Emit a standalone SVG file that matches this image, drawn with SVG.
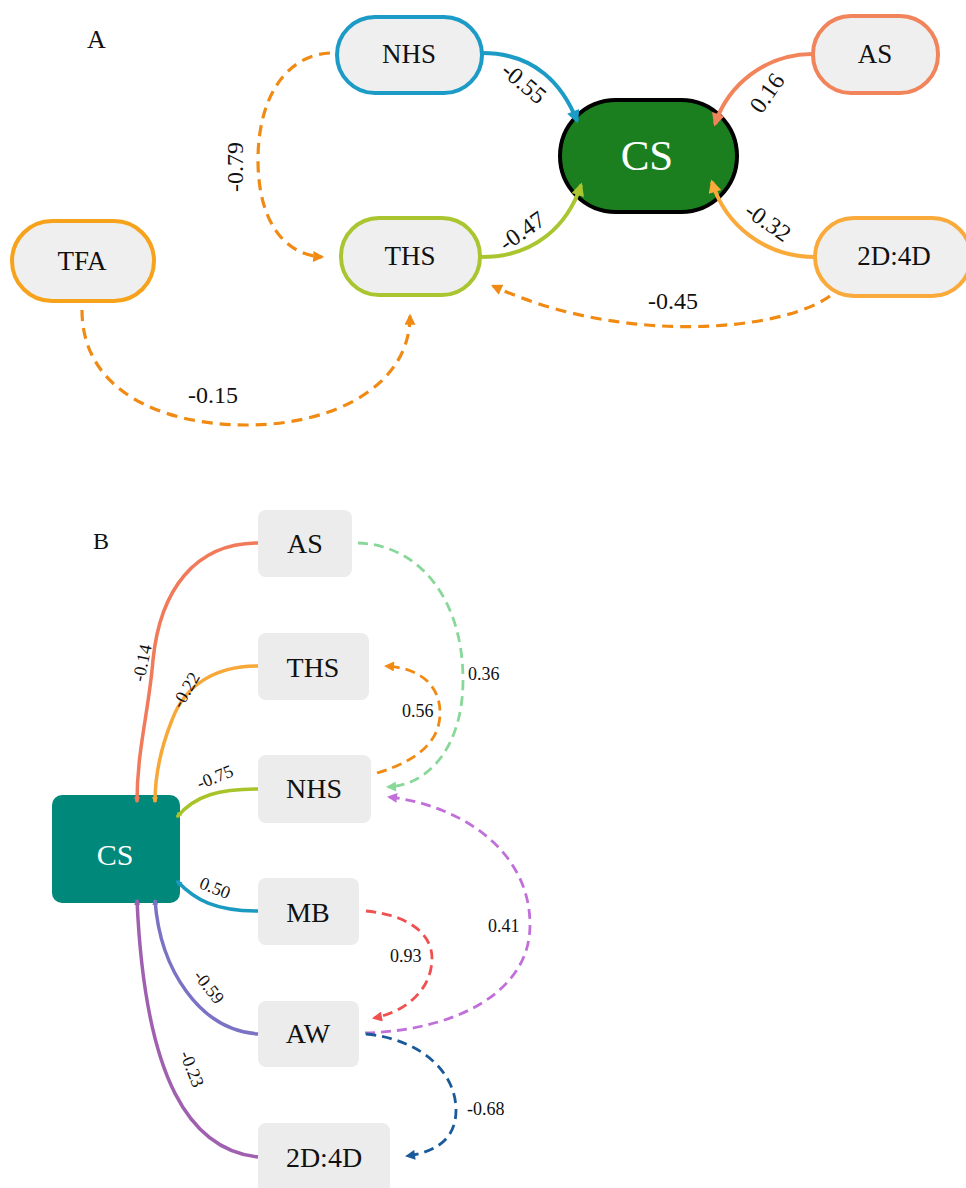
<svg xmlns="http://www.w3.org/2000/svg" width="966" height="1188" viewBox="0 0 966 1188" font-family="Liberation Serif, Times New Roman, serif">
<style>
text{font-family:"Liberation Serif","Times New Roman",serif;fill:#111;}
.pA{stroke-width:4;fill:#efefef;}
.tA{font-family:"Liberation Serif",serif;font-size:27px;text-anchor:middle;}
.lA{font-family:"Liberation Serif",serif;font-size:24px;text-anchor:middle;dominant-baseline:central;}
.tB{font-family:"Liberation Serif",serif;font-size:28px;text-anchor:middle;}
.lB{font-family:"Liberation Serif",serif;font-size:18px;}
.lBr{font-family:"Liberation Serif",serif;font-size:18px;text-anchor:middle;dominant-baseline:central;}
.bx{fill:#ececec;}
.e{fill:none;}
.sA{stroke-width:4;}
.dA{stroke-width:3.2;stroke-dasharray:11 7;}
.sB{stroke-width:3.5;}
.dB{stroke-width:2.8;stroke-dasharray:10 6;}
</style>
<defs>
<marker id="aBlue" viewBox="0 0 10 10" refX="8" refY="5" markerWidth="16" markerHeight="13" markerUnits="userSpaceOnUse" orient="auto"><path d="M0,0L10,5L0,10z" fill="#1b9bc5"/></marker>
<marker id="aCoral" viewBox="0 0 10 10" refX="8" refY="5" markerWidth="16" markerHeight="13" markerUnits="userSpaceOnUse" orient="auto"><path d="M0,0L10,5L0,10z" fill="#f2845c"/></marker>
<marker id="aGreen" viewBox="0 0 10 10" refX="8" refY="5" markerWidth="16" markerHeight="13" markerUnits="userSpaceOnUse" orient="auto"><path d="M0,0L10,5L0,10z" fill="#a9c52f"/></marker>
<marker id="aOr" viewBox="0 0 10 10" refX="8" refY="5" markerWidth="16" markerHeight="13" markerUnits="userSpaceOnUse" orient="auto"><path d="M0,0L10,5L0,10z" fill="#f9aa3a"/></marker>
<marker id="aDash" viewBox="0 0 10 10" refX="8" refY="5" markerWidth="12" markerHeight="11" markerUnits="userSpaceOnUse" orient="auto"><path d="M0,0L10,5L0,10z" fill="#f08a12"/></marker>
<marker id="bCoral" viewBox="0 0 10 10" refX="8" refY="5" markerWidth="7" markerHeight="6" markerUnits="userSpaceOnUse" orient="auto"><path d="M0,0L10,5L0,10z" fill="#f07a5a"/></marker>
<marker id="bOr" viewBox="0 0 10 10" refX="8" refY="5" markerWidth="7" markerHeight="6" markerUnits="userSpaceOnUse" orient="auto"><path d="M0,0L10,5L0,10z" fill="#f8a838"/></marker>
<marker id="bGreen" viewBox="0 0 10 10" refX="8" refY="5" markerWidth="7" markerHeight="6" markerUnits="userSpaceOnUse" orient="auto"><path d="M0,0L10,5L0,10z" fill="#a8c42a"/></marker>
<marker id="bBlue" viewBox="0 0 10 10" refX="8" refY="5" markerWidth="7" markerHeight="6" markerUnits="userSpaceOnUse" orient="auto"><path d="M0,0L10,5L0,10z" fill="#1a9ac0"/></marker>
<marker id="bViolet" viewBox="0 0 10 10" refX="8" refY="5" markerWidth="7" markerHeight="6" markerUnits="userSpaceOnUse" orient="auto"><path d="M0,0L10,5L0,10z" fill="#7a72c4"/></marker>
<marker id="bPurple" viewBox="0 0 10 10" refX="8" refY="5" markerWidth="7" markerHeight="6" markerUnits="userSpaceOnUse" orient="auto"><path d="M0,0L10,5L0,10z" fill="#a060b0"/></marker>
<marker id="dLGreen" viewBox="0 0 10 10" refX="8" refY="5" markerWidth="11" markerHeight="10" markerUnits="userSpaceOnUse" orient="auto"><path d="M0,0L10,5L0,10z" fill="#88d89a"/></marker>
<marker id="dOr" viewBox="0 0 10 10" refX="8" refY="5" markerWidth="11" markerHeight="10" markerUnits="userSpaceOnUse" orient="auto"><path d="M0,0L10,5L0,10z" fill="#f08a12"/></marker>
<marker id="dPink" viewBox="0 0 10 10" refX="8" refY="5" markerWidth="11" markerHeight="10" markerUnits="userSpaceOnUse" orient="auto"><path d="M0,0L10,5L0,10z" fill="#c070d8"/></marker>
<marker id="dRed" viewBox="0 0 10 10" refX="8" refY="5" markerWidth="11" markerHeight="10" markerUnits="userSpaceOnUse" orient="auto"><path d="M0,0L10,5L0,10z" fill="#f05050"/></marker>
<marker id="dNavy" viewBox="0 0 10 10" refX="8" refY="5" markerWidth="11" markerHeight="10" markerUnits="userSpaceOnUse" orient="auto"><path d="M0,0L10,5L0,10z" fill="#1a5a9a"/></marker>
</defs>
<rect width="966" height="1188" fill="#ffffff"/>

<text x="87" y="48" font-size="26">A</text>
<text x="93" y="549" font-size="24">B</text>

<!-- Panel A nodes -->
<g id="A-NHS"><rect class="pA" x="337" y="17" width="145" height="76" rx="38" stroke="#1b9bc5"/><text class="tA" x="409" y="63">NHS</text></g>
<g id="A-THS"><rect class="pA" x="341" y="218" width="139" height="77" rx="38" stroke="#a9c52f"/><text class="tA" x="410" y="265">THS</text></g>
<g id="A-TFA"><rect class="pA" x="12" y="221" width="142" height="80" rx="40" stroke="#f7a21b"/><text class="tA" x="82" y="270">TFA</text></g>
<g id="A-AS"><rect class="pA" x="813" y="16" width="125" height="77" rx="38" stroke="#f2845c"/><text class="tA" x="875" y="63">AS</text></g>
<g id="A-2D4D"><rect class="pA" x="815" y="218" width="156" height="78" rx="39" stroke="#f9aa3a"/><text class="tA" x="894" y="265">2D:4D</text></g>
<g id="A-CS"><rect x="560" y="100" width="177" height="112" rx="56" fill="#1b7f1f" stroke="#000" stroke-width="4"/><text x="647" y="170" font-size="43" text-anchor="middle" style="fill:#fff">CS</text></g>

<!-- Panel B nodes -->
<g id="B-AS"><rect class="bx" x="258" y="510" width="94" height="67" rx="8"/><text class="tB" x="305" y="553">AS</text></g>
<g id="B-THS"><rect class="bx" x="258" y="633" width="111" height="67" rx="8"/><text class="tB" x="313" y="677">THS</text></g>
<g id="B-NHS"><rect class="bx" x="258" y="755" width="113" height="68" rx="8"/><text class="tB" x="314" y="798">NHS</text></g>
<g id="B-MB"><rect class="bx" x="258" y="878" width="101" height="67" rx="8"/><text class="tB" x="308" y="922">MB</text></g>
<g id="B-AW"><rect class="bx" x="258" y="1001" width="101" height="66" rx="8"/><text class="tB" x="308" y="1043">AW</text></g>
<g id="B-2D4D"><rect class="bx" x="258" y="1123" width="132" height="72" rx="8"/><text class="tB" x="324" y="1167">2D:4D</text></g>
<g id="B-CS"><rect x="52" y="795" width="128" height="108" rx="10" fill="#00897a"/><text x="115" y="865" font-size="30" text-anchor="middle" style="fill:#fff">CS</text></g>

<!-- Connectors -->
<g id="connectors">
<path class="e sA" stroke="#1b9bc5" marker-end="url(#aBlue)" d="M482,53 C535,53 563,85 577,121"/>
<path class="e sA" stroke="#f2845c" marker-end="url(#aCoral)" d="M813,54 C765,54 728,85 715,124"/>
<path class="e sA" stroke="#a9c52f" marker-end="url(#aGreen)" d="M482,257 C535,257 568,225 581,185"/>
<path class="e sA" stroke="#f9aa3a" marker-end="url(#aOr)" d="M815,257 C765,257 725,225 712,182"/>
<path class="e dA" stroke="#f08a12" marker-end="url(#aDash)" d="M830,296 C780,332 620,345 493,286"/>
<path class="e dA" stroke="#f08a12" marker-end="url(#aDash)" d="M330,53 C288,55 258,95 258,160 C258,222 285,255 322,257"/>
<path class="e dA" stroke="#f08a12" marker-end="url(#aDash)" d="M82,310 C82,390 160,425 247,425 C335,425 410,385 410,316"/>

<path class="e sB" stroke="#f07a5a" marker-end="url(#bCoral)" d="M258,543 C195,543 160,590 153,660 C149,710 137,750 137,802"/>
<path class="e sB" stroke="#f8a838" marker-end="url(#bOr)" d="M258,666 C215,666 185,685 172,720 C160,750 155,775 155,802"/>
<path class="e sB" stroke="#a8c42a" marker-end="url(#bGreen)" d="M258,789 C220,789 195,795 177,817"/>
<path class="e sB" stroke="#1a9ac0" marker-end="url(#bBlue)" d="M258,911 C215,911 195,900 177,881"/>
<path class="e sB" stroke="#7a72c4" marker-end="url(#bViolet)" d="M258,1034 C200,1030 160,970 155,900"/>
<path class="e sB" stroke="#a060b0" marker-end="url(#bPurple)" d="M258,1157 C190,1150 145,1080 137,900"/>

<path class="e dB" stroke="#88d89a" marker-end="url(#dLGreen)" d="M358,543 C420,545 463,600 463,680 C463,745 430,785 388,787"/>
<path class="e dB" stroke="#f08a12" marker-end="url(#dOr)" d="M377,773 C420,760 440,740 440,713 C440,685 420,668 386,666"/>
<path class="e dB" stroke="#c070d8" marker-end="url(#dPink)" d="M365,1033 C460,1030 530,990 530,925 C530,850 460,805 389,797"/>
<path class="e dB" stroke="#f05050" marker-end="url(#dRed)" d="M366,911 C410,915 432,935 432,958 C432,990 405,1012 374,1018"/>
<path class="e dB" stroke="#1a5a9a" marker-end="url(#dNavy)" d="M366,1034 C425,1040 456,1075 456,1110 C456,1140 435,1152 407,1156"/>
</g>

<!-- Edge labels -->
<g id="labels">
<text class="lA" transform="translate(524,83) rotate(40)">-0.55</text>
<text class="lA" transform="translate(767,93) rotate(-55)">0.16</text>
<text class="lA" transform="translate(522,231) rotate(-35)">-0.47</text>
<text class="lA" transform="translate(768,222) rotate(35)">-0.32</text>
<text class="lA" transform="translate(673,301)">-0.45</text>
<text class="lA" transform="translate(235,167) rotate(-90)">-0.79</text>
<text class="lA" transform="translate(213,395)">-0.15</text>

<text class="lBr" transform="translate(142,663) rotate(-78)">-0.14</text>
<text class="lBr" transform="translate(186,690) rotate(-60)">-0.22</text>
<text class="lBr" transform="translate(215,777) rotate(-22)">-0.75</text>
<text class="lBr" transform="translate(215,888) rotate(22)">0.50</text>
<text class="lBr" transform="translate(209,987) rotate(52)">-0.59</text>
<text class="lBr" transform="translate(192,1069) rotate(68)">-0.23</text>
<text class="lB" x="468" y="680">0.36</text>
<text class="lB" x="402" y="717">0.56</text>
<text class="lB" x="390" y="962">0.93</text>
<text class="lB" x="488" y="932">0.41</text>
<text class="lB" x="467" y="1115">-0.68</text>
</g>
</svg>
